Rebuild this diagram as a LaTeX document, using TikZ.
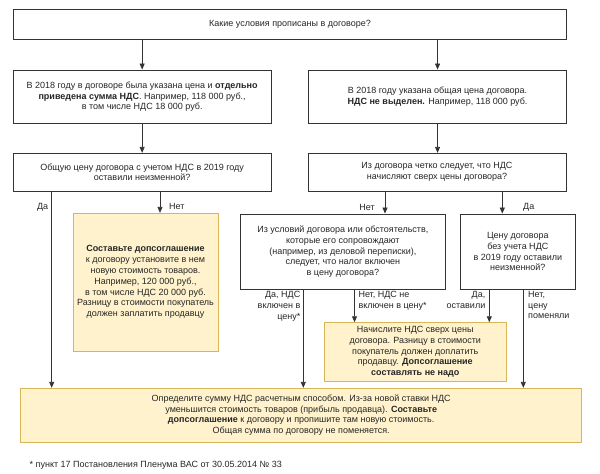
\documentclass[tikz,border=0pt]{standalone}
\usepackage{fontspec}
\setmainfont{Liberation Sans}
\usetikzlibrary{arrows.meta}
\definecolor{yfill}{HTML}{FFF2CC}
\definecolor{yline}{HTML}{D6B656}
\begin{document}
\begin{tikzpicture}[x=1pt,y=-1pt,
 every node/.style={font=\fontsize{9}{10.8}\selectfont, text=black!85},
 box/.style={draw=black!80, line width=0.9pt, fill=white, align=center, inner sep=0pt},
 ybox/.style={draw=yline, line width=0.9pt, fill=yfill, align=center, inner sep=0pt},
 arr/.style={draw=black!80, line width=0.8pt, -{Triangle[length=6pt,width=5pt]}},
 ln/.style={draw=black!80, line width=0.8pt},
 lbl/.style={inner sep=0pt}]
\useasboundingbox (0,0) rectangle (600,474);

\node[box, minimum width=553.4pt, minimum height=30pt] (top) at (290,24.3) {Какие условия прописаны в договоре?};
\node[box, minimum width=257.7pt, minimum height=53.3pt] (A) at (142.15,96.65)
 {В 2018 году в договоре была указана цена и \textbf{отдельно}\\ \textbf{приведена сумма НДС}. Например, 118 000 руб.,\\ в том числе НДС 18 000 руб.};
\node[box, minimum width=258.3pt, minimum height=53.3pt] (B) at (437.55,96.65)
 {В 2018 году указана общая цена договора.\\ \textbf{НДС не выделен.} Например, 118 000 руб.};
\node[box, minimum width=257.7pt, minimum height=37.7pt] (C) at (142.15,172.15)
 {Общую цену договора с учетом НДС в 2019 году\\ оставили неизменной?};
\node[box, minimum width=258pt, minimum height=37.7pt] (D) at (437,172.15)
 {Из договора четко следует, что НДС\\ начисляют сверх цены договора?};
\node[ybox, minimum width=145pt, minimum height=137.7pt] (Y1) at (145.5,282.15)
 {\textbf{Составьте допсоглашение}\\ к договору установите в нем\\ новую стоимость товаров.\\ Например, 120 000 руб.,\\ в том числе НДС 20 000 руб.\\ Разницу в стоимости покупатель\\ должен заплатить продавцу};
\node[box, minimum width=204.3pt, minimum height=75.3pt] (E) at (342.85,251.65)
 {Из условий договора или обстоятельств,\\ которые его сопровождают\\ (например, из деловой переписки),\\ следует, что налог включен\\ в цену договора?};
\node[box, minimum width=114.3pt, minimum height=75.3pt] (F) at (517.85,251.65)
 {Цену договора\\ без учета НДС\\ в 2019 году оставили\\ неизменной?};
\node[ybox, minimum width=181.5pt, minimum height=58.3pt] (Y2) at (415.25,351.85)
 {Начислите НДС сверх цены\\ договора. Разницу в стоимости\\ покупатель должен доплатить\\ продавцу. \textbf{Допсоглашение}\\ \textbf{составлять не надо}};
\node[ybox, minimum width=561pt, minimum height=53.7pt] (G) at (301.2,415.15)
 {Определите сумму НДС расчетным способом. Из-за новой ставки НДС\\ уменьшится стоимость товаров (прибыль продавца). \textbf{Составьте}\\ \textbf{допсоглашение} к договору и пропишите там новую стоимость.\\ Общая сумма по договору не поменяется.};
\node[lbl, anchor=west] (fn) at (29.5,465) {* пункт 17 Постановления Пленума ВАС от 30.05.2014 № 33};

\coordinate (xa) at (51.7,0);
\coordinate (xb) at (160,0);
\coordinate (xc) at (385,0);
\coordinate (xd) at (502.3,0);
\coordinate (xe) at (303.3,0);
\coordinate (xf) at (354.5,0);
\coordinate (xg) at (489.3,0);
\coordinate (xh) at (523.3,0);

\draw[arr] (top.south -| A.north) -- (A.north);
\draw[arr] (top.south -| B.north) -- (B.north);
\draw[arr] (A.south) -- (C.north);
\draw[arr] (B.south) -- (B.south |- D.north);
\draw[arr] (C.south -| xa) -- (G.north -| xa);
\draw[arr] (C.south -| xb) -- (Y1.north -| xb);
\draw[arr] (D.south -| xc) -- (E.north -| xc);
\draw[arr] (D.south -| xd) -- (F.north -| xd);
\draw[arr] (E.south -| xe) -- (G.north -| xe);
\draw[arr] (E.south -| xf) -- (Y2.north -| xf);
\draw[arr] (F.south -| xg) -- (Y2.north -| xg);
\draw[arr] (F.south -| xh) -- (G.north -| xh);

\node[lbl, anchor=east] (l1) at (48.3,207) {Да};
\node[lbl, anchor=west] (l2) at (169,206) {Нет};
\node[lbl, anchor=east] (l3) at (375,207) {Нет};
\node[lbl, anchor=west] (l4) at (523,207) {Да};
\node[lbl, anchor=north east, align=right] (l5) at (300.5,291) {Да, НДС\\ включен в\\ цену*};
\node[lbl, anchor=north west, align=left] (l6) at (358.3,291) {Нет, НДС не\\ включен в цену*};
\node[lbl, anchor=north east, align=right] (l7) at (485.5,291) {Да,\\ оставили};
\node[lbl, anchor=north west, align=left] (l8) at (528,291) {Нет,\\ цену\\ поменяли};
\end{tikzpicture}
\end{document}
